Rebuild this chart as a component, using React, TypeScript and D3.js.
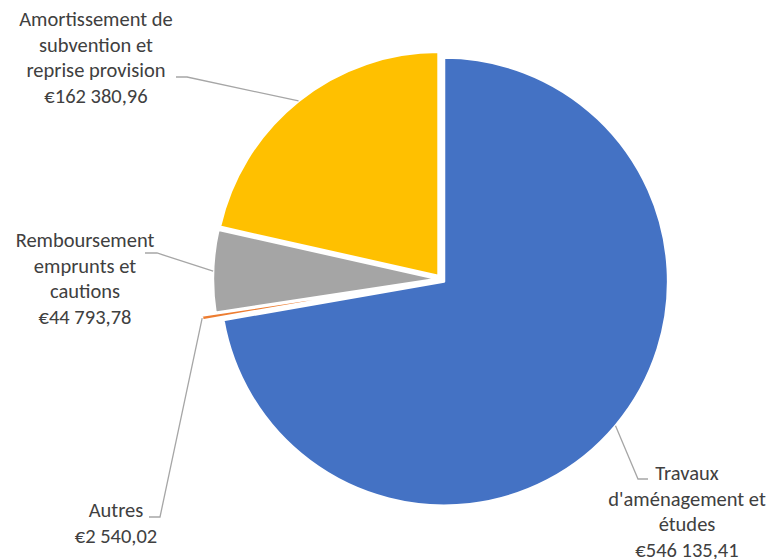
import React from "react";
import * as d3 from "d3";

const categories = [
  "Travaux d'aménagement et études",
  "Autres",
  "Remboursement emprunts et cautions",
  "Amortissement de subvention et reprise provision",
];
const values = [546135.41, 2540.02, 44793.78, 162380.96];
const labelLines = [
  ["Travaux", "d'aménagement et", "études"],
  ["Autres"],
  ["Remboursement", "emprunts et", "cautions"],
  ["Amortissement de", "subvention et", "reprise provision"],
];
const colors = ["#4472C4", "#ED7D31", "#A5A5A5", "#FFC000"];

// layout (styles/positions)
const W = 775;
const H = 559;
const CX = 441;
const CY = 279;
const R = 224;
const explode = [4, 18, 4, 4];
const labelPos = [
  { x: 687, y: 480, hx0: 648, hx1: 638, hy: 479 },
  { x: 116, y: 517, hx0: 149, hx1: 160, hy: 517 },
  { x: 85, y: 247, hx0: 145, hx1: 157, hy: 253 },
  { x: 96, y: 26, hx0: 176, hx1: 187, hy: 77 },
];
const LH = 25.7;
const FONT = "Carlito, Calibri, Lato, sans-serif";

const fmt = d3.formatLocale({
  decimal: ",",
  thousands: " ",
  grouping: [3],
  currency: ["€", ""],
}).format("$,.2f");

export default function App() {
  const pie = d3.pie<number>().sort(null).value((d) => d)(values);
  const arc = d3.arc<d3.PieArcDatum<number>>().innerRadius(0).outerRadius(R);
  return (
    <svg
      width={W}
      height={H}
      style={{ position: "absolute", left: 0, top: 0, display: "block", background: "#fff" }}
    >
      {pie.map((p, i) => {
        const mid = (p.startAngle + p.endAngle) / 2;
        const ox = CX + explode[i] * Math.sin(mid);
        const oy = CY - explode[i] * Math.cos(mid);
        return (
          <path
            key={categories[i]}
            d={arc(p) || ""}
            transform={`translate(${ox},${oy})`}
            fill={colors[i]}
            stroke="#fff"
            strokeWidth={2.4}
            strokeLinejoin="round"
          />
        );
      })}
      {pie.map((p, i) => {
        const mid = (p.startAngle + p.endAngle) / 2;
        const ox = CX + explode[i] * Math.sin(mid);
        const oy = CY - explode[i] * Math.cos(mid);
        const ax = ox + R * Math.sin(mid);
        const ay = oy - R * Math.cos(mid);
        const lp = labelPos[i];
        const lines = [...labelLines[i], fmt(values[i])];
        return (
          <g key={"lab" + i}>
            <polyline
              points={`${lp.hx0},${lp.hy} ${lp.hx1},${lp.hy} ${ax},${ay}`}
              fill="none"
              stroke="#A6A6A6"
              strokeWidth={1.3}
            />
            <text
              x={lp.x}
              y={lp.y}
              textAnchor="middle"
              fill="#404040"
              fontFamily={FONT}
              fontSize={20.5}
            >
              {lines.map((t, j) => (
                <tspan key={j} x={lp.x} y={lp.y + j * LH}>
                  {t}
                </tspan>
              ))}
            </text>
          </g>
        );
      })}
    </svg>
  );
}
